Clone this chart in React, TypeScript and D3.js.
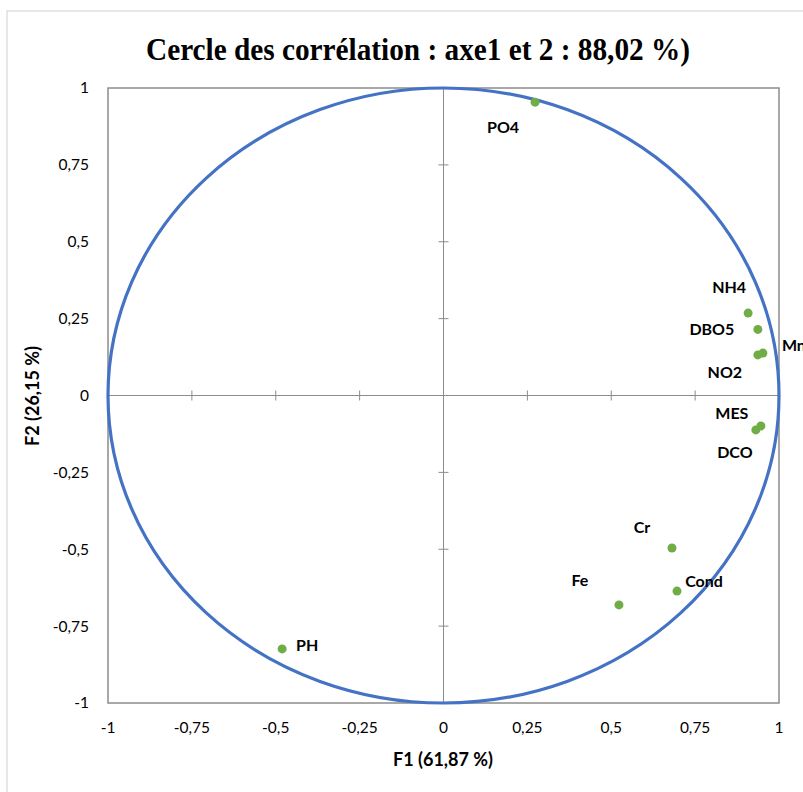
import React from "react";
import * as d3 from "d3";

const variables = ["PO4", "NH4", "DBO5", "Mn", "NO2", "MES", "DCO", "Cr", "Fe", "Cond", "PH"];
const f1 = [0.273, 0.908, 0.937, 0.952, 0.937, 0.931, 0.946, 0.681, 0.523, 0.696, -0.481];
const f2 = [0.954, 0.268, 0.215, 0.138, 0.132, -0.112, -0.099, -0.496, -0.681, -0.636, -0.824];
const tickValues = [-1, -0.75, -0.5, -0.25, 0, 0.25, 0.5, 0.75, 1];
const tickLabels = ["-1", "-0,75", "-0,5", "-0,25", "0", "0,25", "0,5", "0,75", "1"];

// label placement offsets (px) relative to each point
const labelDx = [-32, -19, -46, 31, -33, -24, -26, -30, -39, 27, 25];
const labelDy = [25, -26, 0, -8, 17, -17, 26, -21, -25, -10, -3];

const title = "Cercle des corrélation : axe1 et 2 : 88,02 %)";
const xTitle = "F1 (61,87 %)";
const yTitle = "F2 (26,15 %)";

export default function App() {
  const W = 803, H = 792;
  const x = d3.scaleLinear().domain([-1, 1]).range([108, 779]);
  const y = d3.scaleLinear().domain([-1, 1]).range([703, 88]);
  const font = "Lato, 'Open Sans', sans-serif";
  const gray = "#8c8c8c";
  return (
    <svg width={W} height={H} style={{ position: "absolute", left: 0, top: 0, background: "#fff" }}>
      <rect x={7} y={11} width={W} height={H} fill="#fff" stroke="#d0d0d0" strokeWidth={1} />
      <text x={418} y={60} textAnchor="middle" fontFamily="'Liberation Serif', 'Times New Roman', serif"
        fontWeight="bold" fontSize={32} textLength={544} lengthAdjust="spacingAndGlyphs" fill="#000">{title}</text>
      {/* plot area frame */}
      <rect x={x(-1)} y={y(1)} width={x(1) - x(-1)} height={y(-1) - y(1)} fill="none" stroke={gray} strokeWidth={1.5} />
      {/* zero axes */}
      <line x1={x(-1)} x2={x(1)} y1={y(0)} y2={y(0)} stroke={gray} strokeWidth={1} />
      <line x1={x(0)} x2={x(0)} y1={y(-1)} y2={y(1)} stroke={gray} strokeWidth={1} />
      {tickValues.map((t, i) => (
        <g key={"t" + i}>
          <line x1={x(t)} x2={x(t)} y1={y(0) - 5} y2={y(0) + 5} stroke={gray} strokeWidth={1} />
          <line x1={x(0) - 5} x2={x(0) + 5} y1={y(t)} y2={y(t)} stroke={gray} strokeWidth={1} />
          <text x={x(t)} y={728} dy="0.35em" textAnchor="middle" fontFamily={font} fontSize={15.5} fill="#000">{tickLabels[i]}</text>
          <text x={89} y={y(t)} dy="0.35em" textAnchor="end" fontFamily={font} fontSize={15.5} fill="#000">{tickLabels[i]}</text>
        </g>
      ))}
      {/* correlation circle */}
      <ellipse cx={x(0)} cy={y(0)} rx={x(1) - x(0)} ry={y(0) - y(1)} fill="none" stroke="#4472C4" strokeWidth={3.2} />
      {variables.map((v, i) => (
        <g key={v}>
          <circle cx={x(f1[i])} cy={y(f2[i])} r={4.5} fill="#70AD47" />
          <text x={x(f1[i]) + labelDx[i]} y={y(f2[i]) + labelDy[i]} dy="0.35em" textAnchor="middle"
            fontFamily={font} fontWeight="bold" fontSize={16} fill="#000">{v}</text>
        </g>
      ))}
      <text x={443} y={760} dy="0.35em" textAnchor="middle" fontFamily={font} fontWeight="bold" fontSize={18} fill="#000">{xTitle}</text>
      <text transform={`translate(33,${396}) rotate(-90)`} dy="0.35em" textAnchor="middle" fontFamily={font} fontWeight="bold" fontSize={18} fill="#000">{yTitle}</text>
    </svg>
  );
}
